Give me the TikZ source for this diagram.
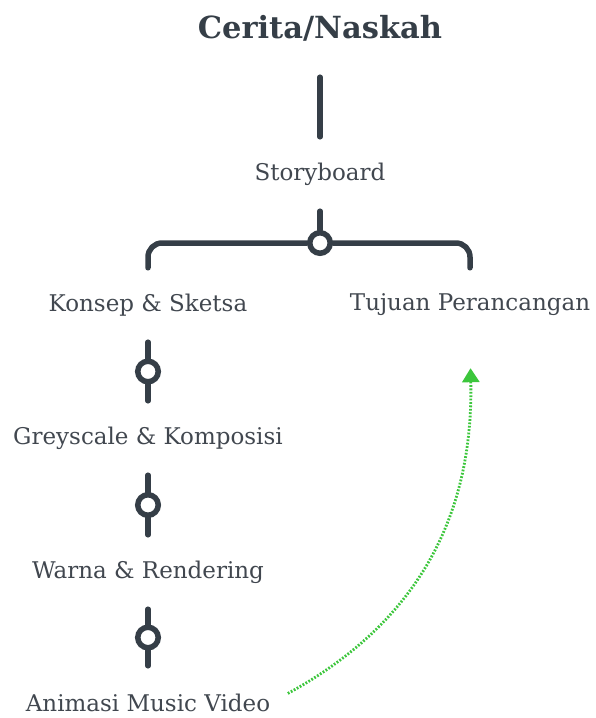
\documentclass[tikz,border=0pt]{standalone}
\usepackage{fontspec}
\setmainfont{DejaVu Serif}
\usetikzlibrary{arrows.meta}
\definecolor{slate}{HTML}{353E47}
\definecolor{inkgrey}{HTML}{41474F}
\definecolor{dotgreen}{HTML}{3CC63C}
\tikzset{
  item/.style={text=inkgrey, font=\fontsize{23}{23}\selectfont, minimum height=74pt, inner sep=0pt},
  conn/.style={draw=slate, line width=5.5pt, line cap=round},
  ring/.style={circle, draw=slate, fill=white, line width=5.5pt, minimum size=20.5pt, inner sep=0pt},
  linkarrow/.style={draw=dotgreen, line width=2.8pt, dash pattern=on 1.8pt off 1.6pt,
    -{Triangle[length=14pt,width=17pt]}}
}
\begin{document}
\begin{tikzpicture}[x=1pt,y=-1pt]
  \useasboundingbox (0,0) rectangle (595,718);
  \node[item, text=slate, font=\fontsize{30.5}{30.5}\selectfont\bfseries, minimum height=98pt] (cerita) at (320,28) {Cerita/Naskah};
  \node[item] (story) at (320,174) {Storyboard};
  \node[ring] (fork) at (320,243) {};
  \node[item] (konsep) at (148,305) {Konsep \& Sketsa};
  \node[item] (tujuan) at (470,305) {Tujuan Perancangan};
  \node[item] (grey) at (148,438) {Greyscale \& Komposisi};
  \node[item] (warna) at (148,572) {Warna \& Rendering};
  \node[item] (anim) at (148,703) {Animasi Music Video};

  \draw[conn] (cerita) -- (story);
  \draw[conn] (story) -- (fork);
  \draw[conn, rounded corners=14pt] (fork) -| (konsep);
  \draw[conn, rounded corners=14pt] (fork) -| (tujuan);
  \foreach \a/\b in {konsep/grey, grey/warna, warna/anim}
    \draw[conn] (\a) -- node[ring]{} (\b);

  % link back up to the goal
  \draw[linkarrow, shorten <=20pt, shorten >=26pt] (anim.east) .. controls (395,635) and (474,540) .. (tujuan.south);
\end{tikzpicture}
\end{document}
